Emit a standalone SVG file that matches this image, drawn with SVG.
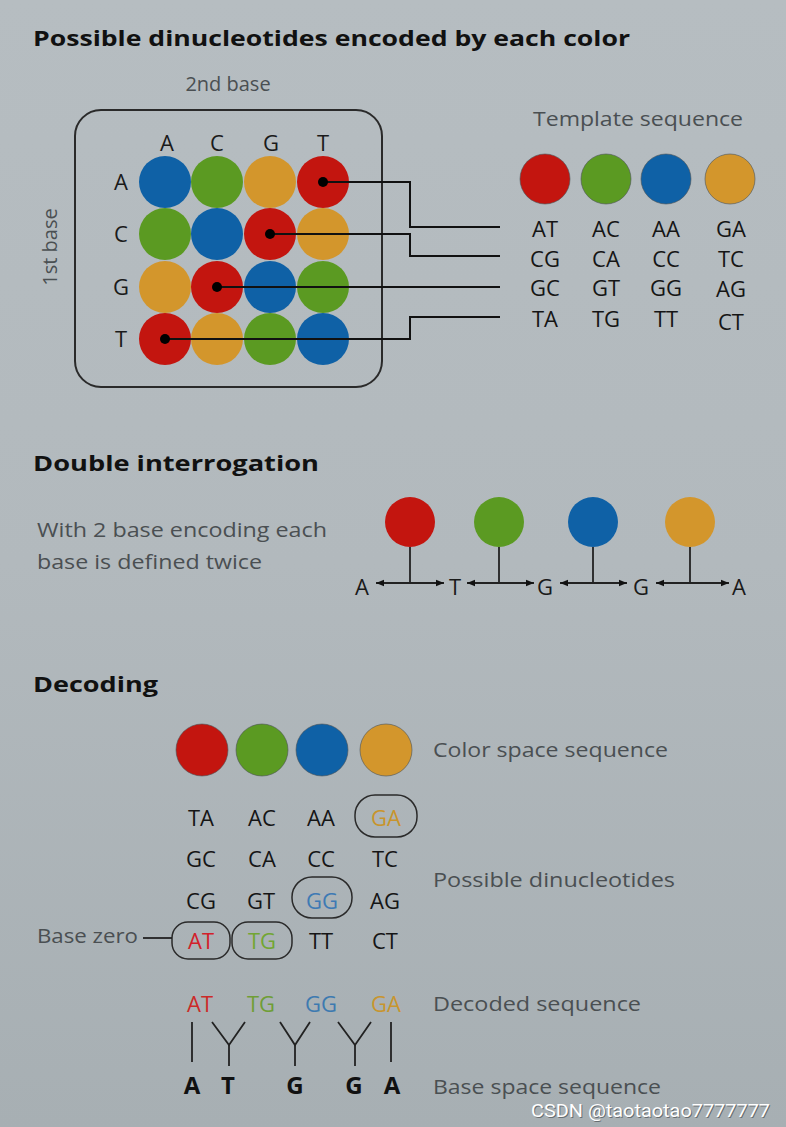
<svg xmlns="http://www.w3.org/2000/svg" width="786" height="1127" viewBox="0 0 786 1127">
<defs>
<linearGradient id="bg" x1="0" y1="0" x2="0" y2="1">
<stop offset="0" stop-color="#b6bdc1"/>
<stop offset="0.5" stop-color="#b2b9bd"/>
<stop offset="1" stop-color="#a7afb3"/>
</linearGradient>
<marker id="ah" viewBox="0 0 10 10" refX="10" refY="5" markerWidth="8" markerHeight="8" orient="auto-start-reverse" markerUnits="userSpaceOnUse">
<path d="M0,1 L10,5 L0,9 Z" fill="#111"/>
</marker>
<style>
.title{font-family:"Open Sans","Liberation Sans",sans-serif;font-weight:bold;font-size:22px;fill:#111}
.lbl{font-family:"Open Sans","Liberation Sans",sans-serif;font-size:20px;fill:#4a4f52}
.base{font-family:"Open Sans","Liberation Sans",sans-serif;font-size:22px;fill:#1a1a1a;text-anchor:middle}
.dn{font-family:"Open Sans","Liberation Sans",sans-serif;font-size:22px;fill:#151515;text-anchor:middle}
.bold{font-family:"Open Sans","Liberation Sans",sans-serif;font-weight:bold;font-size:24px;fill:#111;text-anchor:middle}
.red{fill:#c3150f}.green{fill:#5b9a22}.blue{fill:#0f61a6}.orange{fill:#d3962c}
.ol{stroke:#4d5356;stroke-width:1;stroke-opacity:0.6}
.ln{stroke:#111;stroke-width:2;fill:none}
.thin{stroke:#222;stroke-width:1.8;fill:none}
.box{stroke:#2a2a2a;stroke-width:1.5;fill:none}
.dot{fill:#000}
.wm{font-family:Roboto,"Liberation Sans",sans-serif;font-size:18px}
</style>
</defs>
<rect width="786" height="1127" fill="url(#bg)"/>

<!-- Section 1 -->
<g id="section1-title"><text class="title" x="33" y="46" textLength="597" lengthAdjust="spacingAndGlyphs">Possible dinucleotides encoded by each color</text></g>

<g id="grid">
<text class="lbl" x="228" y="91" text-anchor="middle">2nd base</text>
<text class="lbl" transform="translate(57,247) rotate(-90)" text-anchor="middle">1st base</text>
<rect x="75" y="110" width="307" height="277" rx="26" fill="none" stroke="#2a2a2a" stroke-width="2"/>
<text class="base" x="167" y="151">A</text>
<text class="base" x="217" y="151">C</text>
<text class="base" x="271" y="151">G</text>
<text class="base" x="323" y="151">T</text>
<text class="base" x="121" y="190">A</text>
<text class="base" x="121" y="242">C</text>
<text class="base" x="121" y="295">G</text>
<text class="base" x="121" y="347">T</text>
<circle class="blue" cx="165" cy="182" r="26"/>
<circle class="green" cx="217" cy="182" r="26"/>
<circle class="orange" cx="270" cy="182" r="26"/>
<circle class="red" cx="323" cy="182" r="26"/>
<circle class="green" cx="165" cy="234" r="26"/>
<circle class="blue" cx="217" cy="234" r="26"/>
<circle class="red" cx="270" cy="234" r="26"/>
<circle class="orange" cx="323" cy="234" r="26"/>
<circle class="orange" cx="165" cy="287" r="26"/>
<circle class="red" cx="217" cy="287" r="26"/>
<circle class="blue" cx="270" cy="287" r="26"/>
<circle class="green" cx="323" cy="287" r="26"/>
<circle class="red" cx="165" cy="339" r="26"/>
<circle class="orange" cx="217" cy="339" r="26"/>
<circle class="green" cx="270" cy="339" r="26"/>
<circle class="blue" cx="323" cy="339" r="26"/>
</g>

<g id="template">
<text class="lbl" x="533" y="126" textLength="210" lengthAdjust="spacingAndGlyphs">Template sequence</text>
<circle class="red ol" cx="545" cy="179" r="25"/>
<circle class="green ol" cx="606" cy="179" r="25"/>
<circle class="blue ol" cx="666" cy="179" r="25"/>
<circle class="orange ol" cx="730" cy="179" r="25"/>
<text class="dn" x="545" y="237">AT</text><text class="dn" x="606" y="237">AC</text><text class="dn" x="666" y="237">AA</text><text class="dn" x="731" y="237">GA</text>
<text class="dn" x="545" y="267">CG</text><text class="dn" x="606" y="267">CA</text><text class="dn" x="666" y="267">CC</text><text class="dn" x="731" y="267">TC</text>
<text class="dn" x="545" y="296">GC</text><text class="dn" x="606" y="296">GT</text><text class="dn" x="666" y="296">GG</text><text class="dn" x="731" y="297">AG</text>
<text class="dn" x="545" y="327">TA</text><text class="dn" x="606" y="327">TG</text><text class="dn" x="666" y="327">TT</text><text class="dn" x="731" y="330">CT</text>
</g>

<g id="connectors">
<polyline class="ln" points="323,182 410,182 410,227 500,227"/>
<polyline class="ln" points="270,234 410,234 410,256 500,256"/>
<polyline class="ln" points="217,287 500,287"/>
<polyline class="ln" points="165,339 410,339 410,317 500,317"/>
<circle class="dot" cx="323" cy="182" r="5"/>
<circle class="dot" cx="270" cy="234" r="5"/>
<circle class="dot" cx="217" cy="287" r="5"/>
<circle class="dot" cx="165" cy="339" r="5"/>
</g>

<!-- Section 2 -->
<g id="double-interrogation">
<text class="title" x="33" y="471" textLength="286" lengthAdjust="spacingAndGlyphs">Double  interrogation</text>
<text class="lbl" x="37" y="537" textLength="290" lengthAdjust="spacingAndGlyphs">With 2 base encoding each</text>
<text class="lbl" x="37" y="569" textLength="225" lengthAdjust="spacingAndGlyphs">base is defined twice</text>
<circle class="red" cx="410" cy="522" r="25"/>
<circle class="green" cx="499" cy="522" r="25"/>
<circle class="blue" cx="593" cy="522" r="25"/>
<circle class="orange" cx="690" cy="522" r="25"/>
<g class="thin">
<line x1="410" y1="547" x2="410" y2="583"/>
<line x1="499" y1="547" x2="499" y2="583"/>
<line x1="593" y1="547" x2="593" y2="583"/>
<line x1="690" y1="547" x2="690" y2="583"/>
<line x1="376" y1="583" x2="444" y2="583" marker-start="url(#ah)" marker-end="url(#ah)"/>
<line x1="467" y1="583" x2="534" y2="583" marker-start="url(#ah)" marker-end="url(#ah)"/>
<line x1="560" y1="583" x2="627" y2="583" marker-start="url(#ah)" marker-end="url(#ah)"/>
<line x1="656" y1="583" x2="729" y2="583" marker-start="url(#ah)" marker-end="url(#ah)"/>
</g>
<text class="base" x="362" y="595">A</text>
<text class="base" x="455" y="595">T</text>
<text class="base" x="545" y="595">G</text>
<text class="base" x="641" y="595">G</text>
<text class="base" x="739" y="595">A</text>
</g>

<!-- Section 3 -->
<g id="decoding">
<text class="title" x="33" y="692" textLength="125" lengthAdjust="spacingAndGlyphs">Decoding</text>
<circle class="red ol" cx="202" cy="750" r="26"/>
<circle class="green ol" cx="262" cy="750" r="26"/>
<circle class="blue ol" cx="322" cy="750" r="26"/>
<circle class="orange ol" cx="386" cy="750" r="26"/>
<text class="lbl" x="433" y="757" textLength="235" lengthAdjust="spacingAndGlyphs">Color space sequence</text>

<text class="dn" x="201" y="826">TA</text><text class="dn" x="262" y="826">AC</text><text class="dn" x="321" y="826">AA</text><text class="dn" x="386" y="826" style="fill:#c8942c">GA</text>
<text class="dn" x="201" y="867">GC</text><text class="dn" x="262" y="867">CA</text><text class="dn" x="321" y="867">CC</text><text class="dn" x="385" y="867">TC</text>
<text class="dn" x="201" y="909">CG</text><text class="dn" x="261" y="909">GT</text><text class="dn" x="322" y="909" style="fill:#3e7ab4">GG</text><text class="dn" x="385" y="909">AG</text>
<text class="dn" x="201" y="949" style="fill:#d3202a">AT</text><text class="dn" x="262" y="949" style="fill:#72a633">TG</text><text class="dn" x="321" y="949">TT</text><text class="dn" x="385" y="949">CT</text>
<rect class="box" x="355" y="795" width="62" height="42" rx="20"/>
<rect class="box" x="292" y="877" width="60" height="41" rx="20"/>
<rect class="box" x="172" y="922" width="58" height="37" rx="16"/>
<rect class="box" x="232" y="922" width="60" height="37" rx="16"/>
<text class="lbl" x="433" y="887" textLength="242" lengthAdjust="spacingAndGlyphs">Possible dinucleotides</text>
<text class="lbl" x="37" y="943" textLength="101" lengthAdjust="spacingAndGlyphs">Base zero</text>
<line x1="143" y1="938" x2="172" y2="938" stroke="#222" stroke-width="1.8"/>

<text class="dn" x="200" y="1012" style="fill:#cc2a28">AT</text>
<text class="dn" x="261" y="1012" style="fill:#6f9e36">TG</text>
<text class="dn" x="321" y="1012" style="fill:#3d7ab0">GG</text>
<text class="dn" x="386" y="1012" style="fill:#c8952e">GA</text>
<text class="lbl" x="433" y="1011" textLength="208" lengthAdjust="spacingAndGlyphs">Decoded sequence</text>

<g class="thin">
<line x1="192" y1="1022" x2="192" y2="1062"/>
<polyline points="212,1022 229,1045 245,1022"/><line x1="229" y1="1045" x2="229" y2="1066"/>
<polyline points="280,1022 295,1045 310,1022"/><line x1="295" y1="1045" x2="295" y2="1066"/>
<polyline points="338,1022 355,1045 371,1022"/><line x1="355" y1="1045" x2="355" y2="1066"/>
<line x1="391" y1="1022" x2="391" y2="1062"/>
</g>
<text class="bold" x="192" y="1094">A</text>
<text class="bold" x="228" y="1094">T</text>
<text class="bold" x="295" y="1094">G</text>
<text class="bold" x="354" y="1094">G</text>
<text class="bold" x="392" y="1094">A</text>
<text class="lbl" x="433" y="1094" textLength="228" lengthAdjust="spacingAndGlyphs">Base space sequence</text>
</g>

<g id="watermark">
<text class="wm" x="532" y="1118" fill="#4a5054" fill-opacity="0.7" textLength="239" lengthAdjust="spacingAndGlyphs">CSDN @taotaotao7777777</text>
<text class="wm" x="531" y="1117" fill="#ffffff" textLength="239" lengthAdjust="spacingAndGlyphs">CSDN @taotaotao7777777</text>
</g>
</svg>
